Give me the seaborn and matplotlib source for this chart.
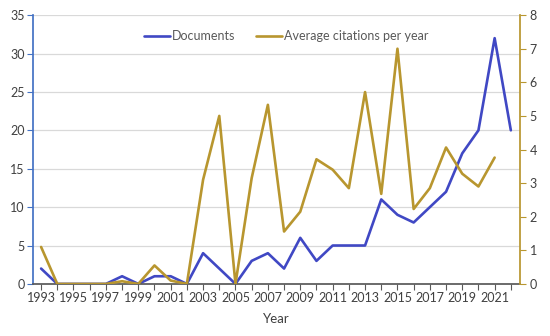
import numpy as np
import pandas as pd
import matplotlib
matplotlib.use("Agg")
import matplotlib.pyplot as plt
import seaborn as sns

years = list(range(1993, 2023))
documents = [2, 0, 0, 0, 0, 1, 0, 1, 1, 0, 4, 2, 0, 3, 4, 2, 6, 3, 5, 5, 5,
             11, 9, 8, 10, 12, 17, 20, 32, 20]
avg_citations = [1.1, 0, 0, 0, 0, 0.08, 0, 0.55, 0.1, 0, 3.1, 5.0, 0, 3.15, 5.33,
                 1.56, 2.15, 3.71, 3.4, 2.85, 5.71, 2.68, 7.0, 2.23, 2.85, 4.06,
                 3.28, 2.9, 3.76, np.nan]
tick_years = list(range(1993, 2022, 2))

df = pd.DataFrame({"Year": years, "Documents": documents,
                   "Average citations per year": avg_citations})

sns.set_theme(style="white")
plt.rcParams['font.family'] = ['Lato', 'DejaVu Sans']

blue = "#4048C4"
gold = "#B8962F"
txt = "#404040"

fig = plt.figure(figsize=(5.5, 3.36), dpi=100)
ax = fig.add_axes([0.06, 0.155, 0.885, 0.8])
ax2 = ax.twinx()

sns.lineplot(data=df, x="Year", y="Documents", ax=ax, color=blue,
             linewidth=1.9, label="Documents", legend=False)
sns.lineplot(data=df, x="Year", y="Average citations per year", ax=ax2,
             color=gold, linewidth=1.9, label="Average citations per year",
             legend=False)

ax.set_xlim(1992.5, 2022.55)
ax.set_ylim(0, 35)
ax2.set_ylim(0, 8)
ax.set_yticks(range(0, 36, 5))
ax2.set_yticks(range(0, 9))
ax.set_xticks(years, minor=False)
ax.set_xticklabels([str(y) if y in tick_years else "" for y in years])

ax.grid(axis="y", color="#D9D9D9", linewidth=0.9)
ax.set_axisbelow(True)
ax.set_ylabel("")
ax2.set_ylabel("")
ax.set_xlabel("Year", fontsize=9.5, color=txt, labelpad=6)

for a in (ax, ax2):
    for s in a.spines.values():
        s.set_visible(False)
ax.spines["left"].set_visible(True)
ax.spines["left"].set_color("#4472C4")
ax.spines["bottom"].set_visible(True)
ax.spines["bottom"].set_color("#595959")
ax2.spines["right"].set_visible(True)
ax2.spines["right"].set_color(gold)

ax.tick_params(axis="x", direction="out", length=4, width=0.8, color="#595959",
               labelsize=9, labelcolor=txt, bottom=True, pad=2)
ax.tick_params(axis="y", direction="out", length=4, width=0.8, color="#4472C4",
               labelsize=9, labelcolor=txt, left=True, pad=2)
ax2.tick_params(axis="y", direction="out", length=4, width=0.8, color=gold,
                labelsize=9, labelcolor=txt, right=True, pad=3)

h1, l1 = ax.get_legend_handles_labels()
h2, l2 = ax2.get_legend_handles_labels()
ax2.legend(h1 + h2, l1 + l2, loc="upper center", bbox_to_anchor=(0.52, 0.985),
           ncol=2, frameon=False, fontsize=9, labelcolor="#595959",
           handlelength=2.1, handletextpad=0.15, columnspacing=1.6)

fig.savefig("out.png", dpi=100)
